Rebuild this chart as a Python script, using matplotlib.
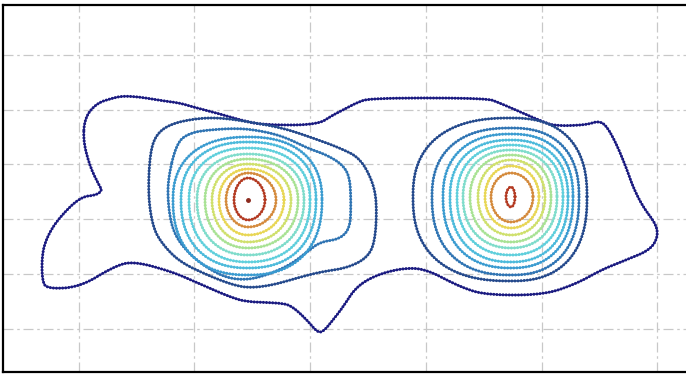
import numpy as np
import matplotlib
matplotlib.use("Agg")
import matplotlib.pyplot as plt

# outer contour (level 1) enclosing both clusters, pixel-style units, y grows downward
outer_x = [83, 85, 97, 113, 123, 140, 157, 180, 193, 213, 240, 263, 317, 333, 343, 356, 370,
           486, 500, 543, 556, 586, 598, 606, 616, 626, 633, 643, 656, 658, 650, 626, 603,
           576, 543, 486, 460, 426, 403, 376, 356, 343, 333, 323, 317, 307, 293, 283, 247,
           230, 200, 173, 133, 113, 80, 47, 42, 42, 47, 58, 80, 97, 102, 100, 90]
outer_y = [140, 117, 103, 98, 96, 97, 100, 103, 107, 112, 120, 125, 125, 115, 110, 103, 98,
           98, 103, 122, 126, 125, 121, 125, 143, 167, 187, 207, 224, 237, 250, 260, 269,
           284, 295, 295, 287, 269, 268, 275, 287, 307, 320, 332, 332, 320, 307, 303, 302,
           297, 284, 272, 261, 267, 287, 289, 280, 254, 237, 219, 197, 195, 190, 187, 167]

# left cluster, level 2 and level 3 (irregular, with a shoulder on the right)
left2_x = [150, 148, 153, 163, 180, 207, 233, 250, 273, 297, 320, 347, 367, 375, 377, 373,
           360, 340, 313, 283, 250, 223, 200, 173, 157]
left2_y = [152, 195, 228, 245, 262, 275, 285, 288, 285, 278, 272, 268, 258, 242, 205, 182,
           158, 148, 138, 128, 122, 118, 118, 123, 133]
left3_x = [168, 177, 190, 207, 240, 267, 287, 307, 327, 343, 350, 351, 350, 340, 320, 307,
           290, 267, 247, 227, 207, 187, 173, 168]
left3_y = [178, 142, 133, 130, 128, 132, 138, 148, 155, 165, 178, 205, 228, 239, 242, 252,
           265, 275, 280, 278, 268, 252, 232, 205]

# cluster peaks
peak_x = [248, 511]
peak_y = [200, 197]

# left cluster, levels 4..12: left / right / top / bottom extents
left_lvl = [4, 5, 6, 7, 8, 9, 10, 11, 12]
left_l = [173, 181, 189, 197, 205, 212, 219, 226, 234]
left_r = [322, 316, 310, 304, 298, 291, 284, 276, 265]
left_t = [137, 142, 148, 154, 159, 164, 169, 173, 178]
left_b = [275, 268, 262, 255, 248, 242, 235, 227, 220]

# right cluster, levels 2..12
right_lvl = [2, 3, 4, 5, 6, 7, 8, 9, 10, 11, 12]
right_l = [413, 432, 443, 450, 457, 463, 470, 478, 485, 491, 506]
right_r = [587, 579, 573, 568, 563, 557, 551, 545, 539, 533, 515]
right_t = [118, 128, 134, 140, 145, 150, 155, 160, 166, 173, 187]
right_b = [281, 275, 268, 262, 255, 248, 242, 235, 228, 222, 207]

level_colors = ["#1a1a80", "#24498c", "#2f74b3", "#3a9bd0", "#4cbadb", "#5fcfdc",
                "#7fdccb", "#a8e294", "#cfe06c", "#e8d654", "#d48a3c", "#b33a22"]


def chaikin(xs, ys, n_iter=3):
    pts = np.column_stack([xs, ys]).astype(float)
    for _ in range(n_iter):
        nxt = np.roll(pts, -1, axis=0)
        q = 0.75 * pts + 0.25 * nxt
        r = 0.25 * pts + 0.75 * nxt
        pts = np.empty((2 * len(q), 2))
        pts[0::2] = q
        pts[1::2] = r
    pts = np.vstack([pts, pts[:1]])
    return pts[:, 0], pts[:, 1]


def ring(cx, cy, l, r, t, b, p=2.4, n=240):
    a = np.linspace(0, 2 * np.pi, n)
    c, s = np.cos(a), np.sin(a)
    fx = np.sign(c) * np.abs(c) ** (2 / p)
    fy = np.sign(s) * np.abs(s) ** (2 / p)
    x = cx + np.where(c >= 0, r - cx, cx - l) * fx
    y = cy + np.where(s >= 0, b - cy, cy - t) * fy
    return x, y


def beads(ax, x, y, color):
    ax.plot(x, y, color=color, lw=0.9, solid_capstyle="round")
    ax.plot(x, y, color=color, lw=2.2, linestyle=(0, (0.01, 1.0)),
            dash_capstyle="round")


fig = plt.figure(figsize=(6.86, 3.74), dpi=100)
ax = fig.add_axes([3 / 686, 2 / 374, 1 - 3 / 686, 367 / 374])

ax.set_xlim(3, 686)
ax.set_ylim(372, 5)
ax.set_xticks([79, 194, 310, 426, 542, 657])
ax.set_yticks([55, 110, 164, 219, 274, 329])
ax.tick_params(length=0, labelbottom=False, labelleft=False)
ax.grid(True, color="#c8c8c8", lw=0.9, linestyle=(0, (8, 3, 2, 3)))
ax.set_axisbelow(True)
for side in ["top", "left", "bottom"]:
    ax.spines[side].set_linewidth(1.6)
ax.spines["right"].set_visible(False)

x, y = chaikin(outer_x, outer_y)
beads(ax, x, y, level_colors[0])
x, y = chaikin(left2_x, left2_y)
beads(ax, x, y, level_colors[1])
x, y = chaikin(left3_x, left3_y)
beads(ax, x, y, level_colors[2])

# inner rings get rounder towards the peak
for i, lvl in enumerate(left_lvl):
    x, y = ring(peak_x[0], peak_y[0], left_l[i], left_r[i], left_t[i], left_b[i],
                p=2.45 - 0.05 * (lvl - 2))
    beads(ax, x, y, level_colors[lvl - 1])

for i, lvl in enumerate(right_lvl):
    x, y = ring(peak_x[1], peak_y[1], right_l[i], right_r[i], right_t[i], right_b[i],
                p=2.45 - 0.05 * (lvl - 2))
    beads(ax, x, y, level_colors[lvl - 1])

# highest level only shows up as a single point on the left peak
ax.plot(peak_x[:1], peak_y[:1], "o", color="#8c2a1e", ms=2.5)

fig.savefig("out.png", dpi=100)
